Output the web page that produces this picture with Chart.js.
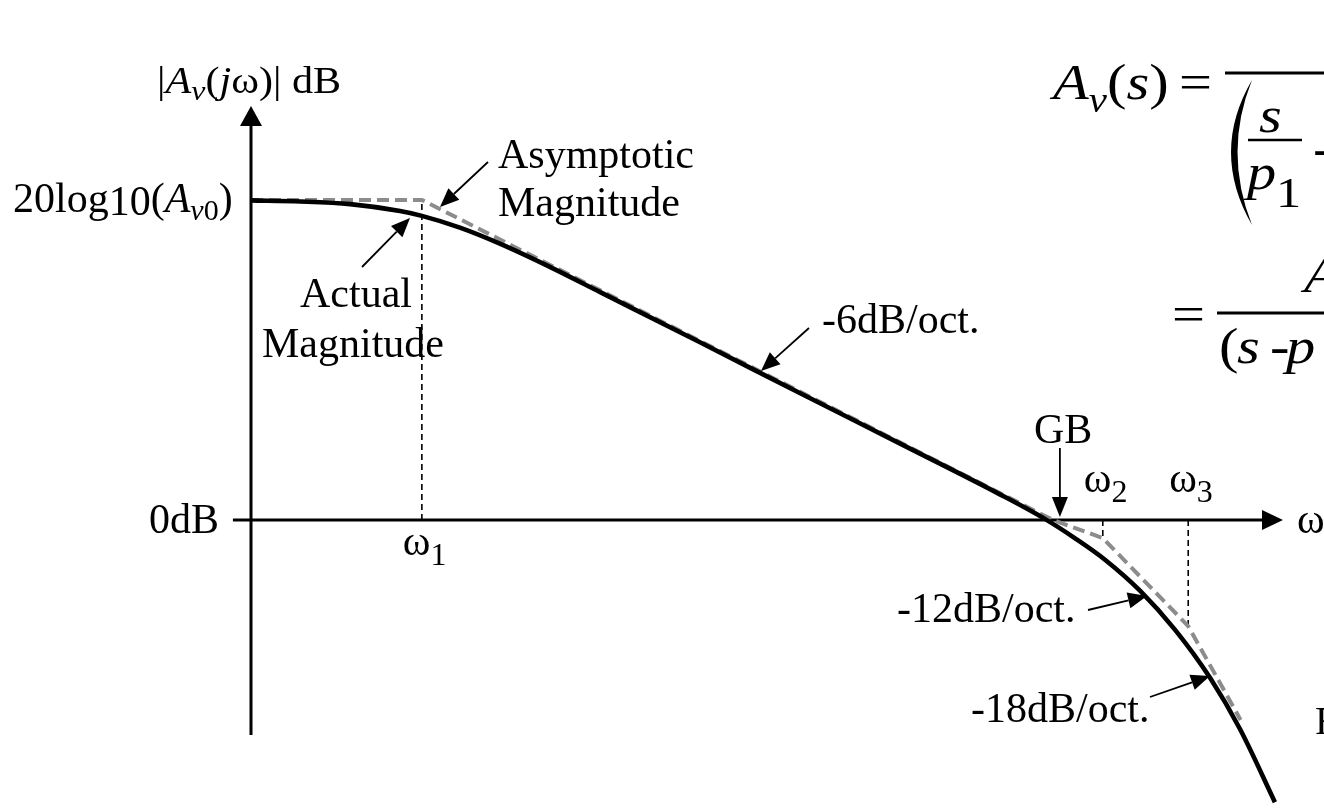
<!DOCTYPE html>
<html>
<head>
<meta charset="utf-8">
<script src="https://cdn.jsdelivr.net/npm/chart.js@4.4.1/dist/chart.umd.min.js"></script>
<style>
  html, body { margin: 0; padding: 0; background: #fff; }
  canvas { display: block; }
</style>
</head>
<body>
<canvas id="bode" width="1324" height="808"></canvas>
<script>
// x: frequency in octaves measured from the vertical axis, y: magnitude in dB (Av0 = 60 dB)
const actualOct = [0, 0.79, 1.59, 2.39, 2.74, 3.35, 3.99, 4.8, 5.6, 7.2, 8.8, 10.41, 12.01, 12.73, 13.21, 13.7, 14.26, 14.82, 15.38, 15.86, 16.42];
const actualDb = [59.9, 59.7, 59.2, 57.9, 57.0, 54.8, 51.8, 47.4, 42.7, 33.3, 23.8, 14.3, 4.8, 0.2, -3.4, -7.5, -13.3, -20.6, -29.6, -39.2, -52.9];

const asymOct = [0, 2.74, 12.86, 13.66, 15.03, 15.87];
const asymDb = [60, 60, 0, -3.4, -19.9, -37.5];

// pole frequencies w1, w2, w3 and the asymptote level under each
const breakOct = [2.74, 13.66, 15.03];
const breakDb = [60, -3.4, -19.9];
const breakNames = ['1', '2', '3'];

const gbOct = 12.86;
const av0Db = 60;

const SERIF = '"Liberation Serif", "Times New Roman", serif';

function pts(xs, ys) {
  return xs.map((x, i) => ({ x: x, y: ys[i] }));
}

// text made of pieces: [text, size, italic, dy, x]; sx widens the glyphs
function rich(ctx, x, y, parts, sx) {
  sx = sx || 1;
  parts.forEach(p => {
    if (p[4] !== undefined) x = p[4];
    ctx.font = (p[2] ? 'italic ' : '') + p[1] + 'px ' + SERIF;
    ctx.save();
    ctx.translate(x, y + (p[3] || 0));
    ctx.scale(sx, 1);
    ctx.fillText(p[0], 0, 0);
    ctx.restore();
    x += ctx.measureText(p[0]).width * sx;
  });
  return x;
}

function line(ctx, x1, y1, x2, y2, w) {
  ctx.lineWidth = w;
  ctx.beginPath();
  ctx.moveTo(x1, y1);
  ctx.lineTo(x2, y2);
  ctx.stroke();
}

function arrow(ctx, x1, y1, x2, y2, len, half, width) {
  const a = Math.atan2(y2 - y1, x2 - x1);
  const bx = x2 - len * Math.cos(a), by = y2 - len * Math.sin(a);
  line(ctx, x1, y1, bx, by, width);
  ctx.beginPath();
  ctx.moveTo(x2, y2);
  ctx.lineTo(bx + half * Math.sin(a), by - half * Math.cos(a));
  ctx.lineTo(bx - half * Math.sin(a), by + half * Math.cos(a));
  ctx.closePath();
  ctx.fill();
}

const axesPlugin = {
  id: 'bodeAxes',
  beforeDatasetsDraw(chart) {
    const ctx = chart.ctx;
    const sx = chart.scales.x, sy = chart.scales.y;
    const x0 = sx.getPixelForValue(0), y0 = sy.getPixelForValue(0);
    ctx.save();
    ctx.strokeStyle = '#000';
    ctx.fillStyle = '#000';
    // vertical magnitude axis
    arrow(ctx, x0, sy.getPixelForValue(-40.3), x0, sy.getPixelForValue(sy.max), 20, 11, 3);
    // frequency axis at 0 dB
    arrow(ctx, sx.getPixelForValue(-0.29), y0, sx.getPixelForValue(sx.max), y0, 21, 10, 3);
    ctx.restore();
  },
  afterDatasetsDraw(chart) {
    const ctx = chart.ctx;
    const sx = chart.scales.x, sy = chart.scales.y;
    const y0 = sy.getPixelForValue(0);
    const yTop = sy.getPixelForValue(av0Db);
    ctx.save();
    ctx.fillStyle = '#000';
    ctx.strokeStyle = '#000';
    ctx.textBaseline = 'alphabetic';

    // axis titles
    rich(ctx, 157, 93, [['|', 37], ['A', 37, true], ['v', 28, true, 7], ['(', 37], ['j', 37, true], ['ω)|', 37], [' dB', 37]], 1.14);
    rich(ctx, 13, yTop + 12, [['20log', 42], ['10', 42, false, 3], ['(', 42], ['A', 42, true], ['v', 30, true, 8], ['0', 30, false, 8], [')', 42]]);
    ctx.font = '42px ' + SERIF;
    ctx.textAlign = 'right';
    ctx.fillText('0dB', 219, y0 + 13);
    ctx.textAlign = 'left';
    rich(ctx, 1297, y0 + 13, [['ω', 42]]);

    // pole labels
    breakOct.forEach((o, i) => {
      const px = sx.getPixelForValue(o);
      const base = i === 0 ? y0 + 35 : y0 - 28;
      rich(ctx, px - 19, base, [['ω', 42], [breakNames[i], 32, false, 10]]);
    });

    // curve labels
    ctx.font = '42px ' + SERIF;
    ctx.fillText('Asymptotic', 498, 168);
    ctx.fillText('Magnitude', 498, 216);
    ctx.fillText('Actual', 300, 307);
    ctx.fillText('Magnitude', 262, 357);
    ctx.fillText('-6dB/oct.', 822, 333);
    ctx.fillText('-12dB/oct.', 897, 622);
    ctx.fillText('-18dB/oct.', 971, 722);

    const gx = sx.getPixelForValue(gbOct);
    ctx.fillText('GB', gx - 19, y0 - 77);

    arrow(ctx, 488, 162, 440, 207, 19, 8, 1.8);
    arrow(ctx, 362, 267, 410, 218, 19, 8, 1.8);
    arrow(ctx, 809, 328, 761, 371, 19, 8, 1.8);
    arrow(ctx, gx + 7, y0 - 72, gx + 7, y0 - 3, 20, 8, 1.8);
    arrow(ctx, 1088, 610, 1147, 596, 19, 8, 1.8);
    arrow(ctx, 1150, 697, 1210, 676, 19, 8, 1.8);

    // transfer function
    rich(ctx, 1053, 99, [['A', 50, true], ['v', 35, true, 13], ['(', 50], ['s', 50, true], [')', 50], ['=', 50, false, 0, 1179]], 1.17);
    line(ctx, 1225, 73, 1324, 73, 3);
    // tall left paren
    ctx.beginPath();
    ctx.moveTo(1252, 80);
    ctx.quadraticCurveTo(1210, 152, 1252, 225);
    ctx.quadraticCurveTo(1223, 152, 1252, 80);
    ctx.fill();
    rich(ctx, 1259, 132, [['s', 50, true]], 1.17);
    line(ctx, 1248, 140, 1302, 140, 2.5);
    rich(ctx, 1247, 189, [['p', 50, true], ['1', 43, false, 18, 1276]], 1.17);
    rich(ctx, 1313, 165, [['-', 50]], 1.17);

    rich(ctx, 1304, 292, [['A', 50, true]], 1.17);
    rich(ctx, 1172, 331, [['=', 50]], 1.17);
    line(ctx, 1217, 313, 1324, 313, 3);
    rich(ctx, 1219, 363, [['(', 50], ['s', 50, true, 0, 1237], ['-', 50, false, 0, 1270], ['p', 50, true, 0, 1286]], 1.17);

    rich(ctx, 1315, 734, [['F', 40]]);
    ctx.restore();
  }
};

const breakSets = breakOct.map((o, i) => ({
  data: [{ x: o, y: 0 }, { x: o, y: breakDb[i] }],
  showLine: true,
  borderColor: '#000',
  borderWidth: 1.6,
  borderDash: [6, 4],
  pointRadius: 0,
  clip: false,
  order: 3
}));

new Chart(document.getElementById('bode'), {
  type: 'scatter',
  data: {
    datasets: [
      {
        label: 'Actual Magnitude',
        data: pts(actualOct, actualDb),
        showLine: true,
        borderColor: '#000',
        borderWidth: 4.6,
        pointRadius: 0,
        cubicInterpolationMode: 'monotone',
        clip: false,
        order: 1
      },
      {
        label: 'Asymptotic Magnitude',
        data: pts(asymOct, asymDb),
        showLine: true,
        borderColor: '#8c8c8c',
        borderWidth: 4,
        borderDash: [12, 6],
        pointRadius: 0,
        tension: 0,
        clip: false,
        order: 2
      }
    ].concat(breakSets)
  },
  options: {
    responsive: false,
    animation: false,
    events: [],
    layout: { padding: { left: 251, right: 41, top: 106, bottom: 8 } },
    scales: {
      x: { type: 'linear', display: false, min: 0, max: 16.55 },
      y: { type: 'linear', display: false, min: -52.5, max: 77.6 }
    },
    plugins: {
      legend: { display: false },
      tooltip: { enabled: false }
    }
  },
  plugins: [axesPlugin]
});
</script>
</body>
</html>
